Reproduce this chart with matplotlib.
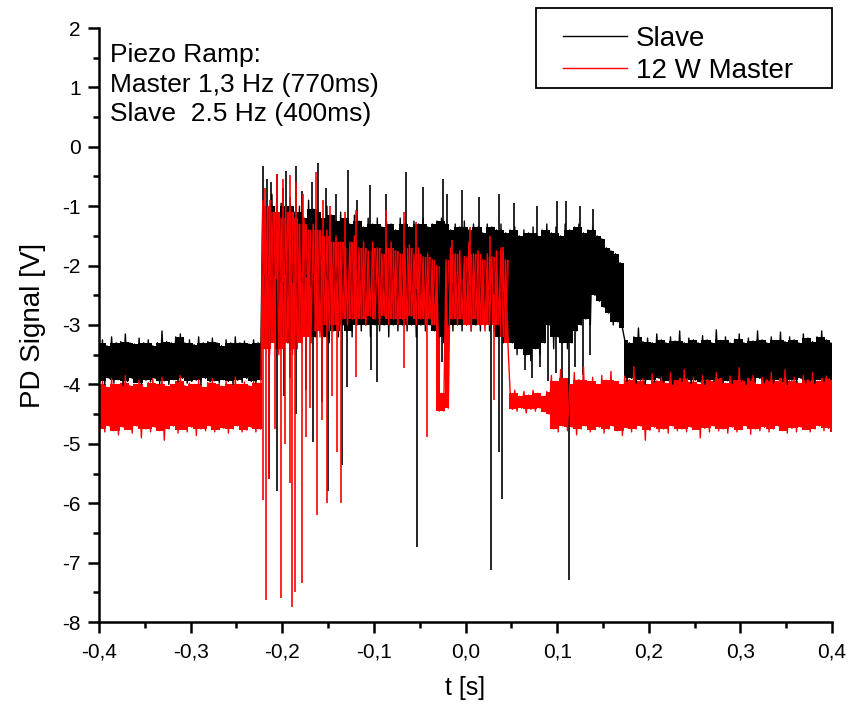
import numpy as np
import matplotlib
matplotlib.use("Agg")
import matplotlib.pyplot as plt
from matplotlib.patches import Rectangle

plt.rcParams["font.family"] = ["Liberation Sans", "DejaVu Sans"]
plt.rcParams["axes.unicode_minus"] = False

# top/bottom of the dense noise band in 5 ms bins (bins start at -0.4 s),
# isolated spikes are listed separately
dt = 0.005

# Slave (black)
slave_hi_left = [-3.3, -3.25, -3.35, -3.2, -3.3, -3.28, -3.15, -3.3, -3.32, -3.22, -3.3, -3.25,
                 -3.35, -3.3, -3.1, -3.28, -3.3, -3.2, -3.15, -3.3, -3.25, -3.33, -3.2, -3.3,
                 -3.28, -3.22, -3.3, -3.35, -3.25, -3.3, -3.2, -3.3, -3.27, -3.32, -3.25, -3.3]
slave_lo_left = [-3.95, -4.0, -3.9, -3.98, -3.92, -4.02, -3.95, -3.9, -3.97, -4.0, -3.93, -3.96,
                 -3.9, -3.99, -3.94, -4.0, -3.92, -3.96, -3.9, -3.98, -3.95, -3.93, -4.0, -3.9,
                 -3.96, -3.94, -3.98, -3.92, -3.95, -4.0, -3.93, -3.97, -3.9, -3.95, -3.98, -3.92]
slave_hi_burst = [-0.9, -1.0, -0.8, -1.1, -0.95, -1.0, -0.85, -1.1, -1.0, -1.2, -0.9, -1.05,
                  -1.1, -1.2, -1.0, -1.15, -1.25, -1.1, -1.2, -1.3, -1.15, -1.25, -1.35, -1.2,
                  -1.3, -1.2, -1.35, -1.25, -1.3, -1.4, -1.2, -1.3, -1.35, -1.25, -1.3, -1.2,
                  -1.35, -1.3, -1.25, -1.2, -1.3, -1.4, -1.3, -1.35, -1.25, -1.4, -1.3, -1.35,
                  -1.45, -1.3, -1.35, -1.4, -1.3, -1.45, -1.4, -1.35, -1.5, -1.4, -1.45, -1.35,
                  -1.5, -1.4, -1.3, -1.45, -1.35, -1.5, -1.3, -1.4, -1.35, -1.3, -1.45, -1.4,
                  -1.35, -1.5, -1.55, -1.7, -1.75, -1.8, -1.95]
slave_lo_burst = [-3.2, -3.3, -3.1, -3.4, -3.2, -3.3, -3.1, -3.3, -3.2, -3.1, -3.3, -3.2,
                  -3.1, -3.2, -3.3, -3.1, -3.2, -3.0, -3.1, -3.2, -3.0, -3.1, -3.0, -3.2,
                  -3.0, -3.1, -3.0, -3.2, -3.0, -3.1, -3.0, -3.1, -3.0, -3.2, -3.0, -3.1,
                  -3.0, -3.1, -3.2, -3.3, -3.0, -3.1, -3.0, -3.1, -3.0, -3.1, -3.0, -3.1,
                  -3.0, -3.1, -3.0, -3.2, -3.3, -3.2, -3.3, -3.5, -3.4, -3.5, -3.6, -3.4,
                  -3.5, -3.3, -3.0, -3.4, -3.2, -3.3, -3.4, -3.3, -3.1, -3.0, -2.9, -3.0,
                  -2.5, -2.6, -2.7, -2.8, -3.0, -2.95, -3.05]
slave_hi_right = [-3.25, -3.3, -3.2, -3.05, -3.28, -3.22, -3.3, -3.15, -3.25, -3.3, -3.2, -3.27,
                  -3.1, -3.3, -3.22, -3.25, -3.3, -3.18, -3.25, -3.3, -3.08, -3.26, -3.2, -3.3,
                  -3.24, -3.15, -3.3, -3.22, -3.27, -3.1, -3.25, -3.3, -3.2, -3.26, -3.12, -3.28,
                  -3.2, -3.25, -3.3, -3.15, -3.22, -3.28, -3.2, -3.1, -3.25, -3.3]
slave_lo_right = [-3.95, -3.9, -3.98, -3.93, -4.0, -3.92, -3.96, -3.9, -3.97, -3.94, -4.0, -3.92,
                  -3.95, -3.9, -3.98, -3.93, -3.96, -4.0, -3.92, -3.95, -3.9, -3.97, -3.94, -3.98,
                  -3.92, -3.95, -4.0, -3.93, -3.96, -3.9, -3.97, -3.94, -3.98, -3.92, -3.95, -4.0,
                  -3.93, -3.96, -3.9, -3.97, -3.94, -3.98, -3.92, -3.95, -3.9, -3.96]
slave_spike_t = [-0.2215, -0.217, -0.212, -0.206, -0.199, -0.196, -0.185, -0.178, -0.168, -0.161,
                 -0.152, -0.141, -0.128, -0.118, -0.104, -0.087, -0.065, -0.046, -0.0246, -0.020,
                 -0.004, 0.015, 0.037, 0.053, 0.078, 0.100, 0.1097, 0.125, 0.139,
                 -0.2145, -0.2052, -0.198, -0.1915, -0.185, -0.1744, -0.1664, -0.1566, -0.150,
                 -0.1348, -0.129, -0.103, -0.0966, -0.0533, -0.0257, 0.0275, 0.0366, 0.040,
                 0.065, 0.0726, 0.0813, 0.090, 0.0988, 0.1053, 0.113, 0.1195, 0.128, 0.1359]
slave_spike_v = [-0.33, -0.55, -0.6, -0.45, -0.7, -0.4, -0.32, -0.75, -0.6, -0.27,
                 -0.7, -0.8, -0.39, -0.9, -0.64, -0.8, -0.42, -0.67, -0.54, -0.8,
                 -0.73, -0.85, -0.8, -0.95, -1.0, -0.91, -0.91, -0.99, -1.05,
                 -5.6, -5.8, -4.2, -3.9, -4.5, -4.1, -4.97, -4.3, -5.8,
                 -5.36, -4.04, -3.76, -3.96, -6.74, -3.62, -7.12, -5.14, -5.93,
                 -3.75, -3.9, -3.7, -3.95, -3.8, -3.9, -7.29, -3.7, -3.85, -3.5]

# 12 W Master (red)
master_hi_left = [-4.0, -3.95, -4.05, -3.9, -4.0, -3.98, -3.85, -4.02, -4.0, -3.93, -4.05, -3.97,
                  -3.9, -4.0, -3.88, -4.03, -4.0, -3.95, -3.85, -4.02, -3.98, -4.0, -3.92, -4.05,
                  -3.97, -3.9, -4.0, -4.03, -3.95, -4.0, -3.88, -4.0, -3.96, -4.02, -3.95, -3.98]
master_lo_left = [-4.75, -4.8, -4.7, -4.78, -4.85, -4.72, -4.76, -4.82, -4.7, -4.9, -4.75, -4.8,
                  -4.72, -4.78, -4.94, -4.75, -4.7, -4.82, -4.76, -4.8, -4.72, -4.86, -4.75, -4.78,
                  -4.7, -4.8, -4.76, -4.74, -4.82, -4.75, -4.7, -4.8, -4.77, -4.72, -4.8, -4.75]
master_hi_burst = [-0.9, -1.0, -1.1, -0.95, -1.2, -1.0, -1.1, -1.2, -1.3, -1.2, -1.4, -1.3,
                   -1.4, -1.5, -1.4, -1.6, -1.5, -1.6, -1.7, -1.6, -1.5, -1.7, -1.6, -1.75,
                   -1.6, -1.7, -1.8, -1.7, -1.6, -1.75, -1.8, -1.7, -1.65, -1.8, -1.7, -1.85,
                   -1.8, -1.9, -2.0, -4.15, -1.9, -1.7, -1.8, -1.75, -1.85, -1.6, -1.8, -1.75,
                   -1.9, -1.8, -1.85, -1.75, -1.7, -1.9]
master_lo_burst = [-3.4, -3.5, -3.3, -3.5, -3.4, -3.3, -3.5, -3.4, -3.3, -3.2, -3.3, -3.1,
                   -3.2, -3.0, -3.1, -3.0, -3.1, -2.9, -3.0, -2.9, -3.0, -2.9, -3.0, -2.85,
                   -2.9, -3.0, -2.85, -3.0, -2.9, -3.0, -2.9, -3.0, -2.85, -3.0, -2.9, -3.0,
                   -2.9, -3.0, -4.45, -4.45, -4.4, -2.9, -3.0, -2.9, -3.0, -3.1, -2.9, -3.0,
                   -3.1, -3.0, -3.1, -3.0, -3.2, -3.3]
master_hi_mid = [-4.15, -4.1, -4.2, -4.12, -4.18, -4.1, -4.15, -4.2, -4.12]
master_lo_mid = [-4.42, -4.45, -4.4, -4.48, -4.42, -4.45, -4.4, -4.46, -4.5]
master_hi_right = [-3.85, -3.95, -3.75, -3.9, -4.0, -3.8, -3.92, -3.7, -3.95, -3.88, -4.0, -3.85,
                   -3.93, -3.78, -3.95, -4.0, -3.86, -3.92, -3.7, -3.95, -3.9, -4.0, -3.82, -3.94,
                   -3.88, -3.98, -3.8, -3.93, -3.9, -3.75, -3.96, -3.88, -4.0, -3.85, -3.92, -3.95,
                   -3.8, -3.9, -3.98, -3.86, -3.93, -3.72, -3.95, -3.9, -3.85, -4.0, -3.88, -3.92,
                   -3.8, -3.95, -3.9, -3.75, -3.94, -3.88, -3.98, -3.85, -3.92, -3.8, -3.95, -3.9,
                   -3.86, -3.93]
master_lo_right = [-4.75, -4.8, -4.7, -4.78, -4.72, -4.85, -4.75, -4.7, -4.8, -4.76, -4.72, -4.82,
                   -4.75, -4.7, -4.78, -4.86, -4.73, -4.8, -4.75, -4.7, -4.94, -4.77, -4.72, -4.8,
                   -4.75, -4.82, -4.7, -4.78, -4.75, -4.8, -4.72, -4.76, -4.9, -4.74, -4.8, -4.7,
                   -4.78, -4.75, -4.82, -4.72, -4.8, -4.76, -4.7, -4.84, -4.75, -4.78, -4.72, -4.8,
                   -4.75, -4.7, -4.78, -4.82, -4.74, -4.8, -4.72, -4.76, -4.8, -4.75, -4.7, -4.78,
                   -4.74, -4.8]
master_spike_t = [-0.2188, -0.2134, -0.2057, -0.1992, -0.1915, -0.1850, -0.1774, -0.1632, -0.1555,
                  -0.1479, -0.1315, -0.1195, -0.0868, -0.0671, -0.0540, -0.0147, 0.0049, 0.0267,
                  0.0409,
                  -0.2205, -0.2181, -0.2145, -0.2079, -0.2017, -0.1970, -0.1915, -0.1897, -0.1861,
                  -0.1788, -0.1744, -0.1697, -0.1624, -0.1566, -0.1515, -0.1457, -0.1402, -0.1359,
                  -0.1195, -0.0671, -0.0420, -0.0289, 0.0311]
master_spike_v = [-0.7, -0.9, -0.45, -0.55, -0.47, -0.6, -0.8, -0.42, -0.9,
                  -1.0, -1.1, -1.06, -1.06, -1.1, -1.27, -1.57, -1.35, -1.5,
                  -1.69,
                  -5.95, -7.63, -5.6, -4.75, -7.6, -5.0, -5.66, -7.75, -7.5,
                  -7.35, -4.89, -4.4, -6.2, -4.6, -6.0, -4.2, -5.14, -6.0,
                  -3.88, -3.73, -4.89, -4.32, -4.26]

x_ticks = [-0.4, -0.3, -0.2, -0.1, 0.0, 0.1, 0.2, 0.3, 0.4]
x_tick_labels = ["-0,4", "-0,3", "-0,2", "-0,1", "0,0", "0,1", "0,2", "0,3", "0,4"]
y_ticks = [-8, -7, -6, -5, -4, -3, -2, -1, 0, 1, 2]

note = "Piezo Ramp:\nMaster 1,3 Hz (770ms)\nSlave  2.5 Hz (400ms)"

slave_hi = np.array(slave_hi_left + slave_hi_burst + slave_hi_right)
slave_lo = np.array(slave_lo_left + slave_lo_burst + slave_lo_right)
master_hi = np.array(master_hi_left + master_hi_burst + master_hi_mid + master_hi_right)
master_lo = np.array(master_lo_left + master_lo_burst + master_lo_mid + master_lo_right)


def med3(v):
    p = np.concatenate([v[:1], v, v[-1:]])
    return np.median(np.stack([p[:-2], p[1:-1], p[2:]]), axis=0)


def draw(ax, hi, lo, spike_t, spike_v, color, label):
    t = -0.4 + dt * np.arange(len(hi))
    top = np.minimum(med3(hi), hi)
    bot = np.maximum(med3(lo), lo)
    ax.fill_between(t, bot, top, step="mid", color=color, lw=0)
    tt = np.column_stack([t - dt / 4, t + dt / 4]).ravel()
    vv = np.column_stack([hi, lo]).ravel()
    ax.plot(tt, vv, color=color, lw=1.0, label=label)
    k = np.clip(np.round((np.array(spike_t) + 0.4) / dt).astype(int), 0, len(hi) - 1)
    base = (hi[k] + lo[k]) / 2
    ax.vlines(spike_t, base, spike_v, color=color, lw=1.2)


fig = plt.figure(figsize=(8.51, 7.09), dpi=100)
ax = fig.add_axes([99 / 851, 1 - 622 / 709, 733 / 851, 594 / 709])

draw(ax, slave_hi, slave_lo, slave_spike_t, slave_spike_v, "black", "Slave")
draw(ax, master_hi, master_lo, master_spike_t, master_spike_v, "red", "12 W Master")

ax.set_xlim(-0.4, 0.4)
ax.set_ylim(-8, 2)
ax.set_xticks(x_ticks)
ax.set_xticklabels(x_tick_labels)
ax.set_xticks(np.arange(-0.35, 0.4, 0.1), minor=True)
ax.set_yticks(y_ticks)
ax.set_yticks(np.arange(-7.5, 2, 1.0), minor=True)
for side in ["top", "right"]:
    ax.spines[side].set_visible(False)
for side in ["left", "bottom"]:
    ax.spines[side].set_linewidth(1.8)
ax.tick_params(which="major", direction="out", length=8, width=1.8, labelsize=15)
ax.tick_params(which="minor", direction="out", length=4, width=1.8)
ax.tick_params(axis="x", pad=7)
ax.tick_params(axis="y", pad=5)

ax.set_xlabel("t [s]", fontsize=18, labelpad=10)
ax.set_ylabel("PD Signal [V]", fontsize=20, labelpad=12)

fig.text(110 / 851, 1 - 43 / 709, note, fontsize=19, va="top", ha="left", linespacing=1.3)

fig.patches.append(Rectangle((536 / 851, 1 - 88 / 709), 296 / 851, 80 / 709,
                             transform=fig.transFigure, facecolor="white",
                             edgecolor="black", lw=1.3, zorder=5))
leg = fig.legend(loc="upper left", bbox_to_anchor=(563 / 851, 1 - 26 / 709),
                 fontsize=20, handlelength=2.3, handletextpad=0.32, borderpad=0,
                 labelspacing=0.22, borderaxespad=0, frameon=False)
leg.set_zorder(6)
for line in leg.get_lines():
    line.set_linewidth(1.0)

fig.savefig("out.png", dpi=100)
